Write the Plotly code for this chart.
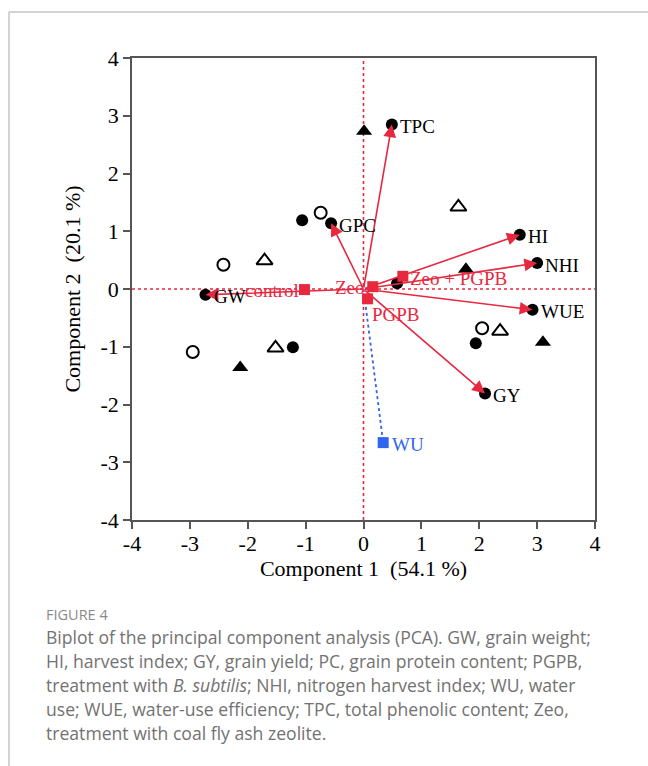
import plotly.graph_objects as go

# ---------------- data ----------------
var_names = ["TPC", "GPC", "HI", "NHI", "WUE", "GY", "GW"]
var_x = [0.49, -0.56, 2.70, 3.00, 2.92, 2.10, -2.73]
var_y = [2.85, 1.14, 0.94, 0.45, -0.36, -1.81, -0.10]

filled_circle_x = [-1.06, 1.94, -1.22, 0.58]
filled_circle_y = [1.19, -0.94, -1.01, 0.10]

open_circle_x = [-0.74, -2.42, -2.95, 2.05]
open_circle_y = [1.32, 0.42, -1.09, -0.68]

open_tri_x = [-1.71, -1.52, 1.64, 2.36]
open_tri_y = [0.49, -1.02, 1.42, -0.73]

filled_tri_x = [0.01, -2.13, 1.77, 3.10]
filled_tri_y = [2.73, -1.36, 0.34, -0.92]

treat_names = ["control", "Zeo", "Zeo + PGPB", "PGPB"]
treat_x = [-1.02, 0.16, 0.68, 0.07]
treat_y = [-0.01, 0.04, 0.22, -0.17]

wu_name = "WU"
wu_x = [0.34]
wu_y = [-2.66]

tick_vals = [-4, -3, -2, -1, 0, 1, 2, 3, 4]
tick_text = ["-4", "-3", "-2", "-1", "0", "1", "2", "3", "4"]

x_title = "Component 1  (54.1 %)"
y_title = "Component 2  (20.1 %)"

caption_head = "FIGURE 4"
caption_lines = [
    "Biplot of the principal component analysis (PCA). GW, grain weight;",
    "HI, harvest index; GY, grain yield; PC, grain protein content; PGPB,",
    "treatment with <i>B. subtilis</i>; NHI, nitrogen harvest index; WU, water",
    "use; WUE, water-use efficiency; TPC, total phenolic content; Zeo,",
    "treatment with coal fly ash zeolite.",
]

# ---------------- layout geometry ----------------
W, H = 648, 766
L, R, T, B = 132, 595, 58, 520
RED = "#E8283F"
BLUE = "#2F63F0"
SERIF = "Liberation Serif"


def paper(xp, yp):
    return (xp - L) / (R - L), (B - yp) / (B - T)


fig = go.Figure()

# reference dotted lines
fig.add_trace(go.Scatter(x=[-4, 4], y=[0, 0], mode="lines",
                         line=dict(color=RED, width=1.6, dash="3px,3px"),
                         hoverinfo="skip", showlegend=False))
fig.add_trace(go.Scatter(x=[0, 0], y=[-4, 4], mode="lines",
                         line=dict(color=RED, width=1.6, dash="3px,3px"),
                         hoverinfo="skip", showlegend=False))

# WU dotted blue vector
fig.add_trace(go.Scatter(x=[0, wu_x[0]], y=[0, wu_y[0]], mode="lines",
                         line=dict(color=BLUE, width=1.8, dash="3px,3px"),
                         hoverinfo="skip", showlegend=False))

# observation markers
fig.add_trace(go.Scatter(x=filled_circle_x + var_x, y=filled_circle_y + var_y,
                         mode="markers",
                         marker=dict(symbol="circle", size=12, color="black"),
                         showlegend=False))
fig.add_trace(go.Scatter(x=open_circle_x, y=open_circle_y, mode="markers",
                         marker=dict(symbol="circle-open", size=12, color="black",
                                     line=dict(width=2, color="black")),
                         showlegend=False))
fig.add_trace(go.Scatter(x=open_tri_x, y=open_tri_y, mode="markers",
                         marker=dict(symbol="triangle-up-open", size=14, color="black",
                                     line=dict(width=2, color="black")),
                         showlegend=False))
fig.add_trace(go.Scatter(x=filled_tri_x, y=filled_tri_y, mode="markers",
                         marker=dict(symbol="triangle-up", size=14, color="black"),
                         showlegend=False))

# treatment squares
fig.add_trace(go.Scatter(x=treat_x, y=treat_y, mode="markers",
                         marker=dict(symbol="square", size=11, color=RED),
                         showlegend=False))
fig.add_trace(go.Scatter(x=wu_x, y=wu_y, mode="markers",
                         marker=dict(symbol="square", size=11, color=BLUE),
                         showlegend=False))

annotations = []
# variable arrows
for n, x, y in zip(var_names, var_x, var_y):
    annotations.append(dict(x=x, y=y, ax=0, ay=0, xref="x", yref="y",
                            axref="x", ayref="y", showarrow=True, text="",
                            arrowhead=2, arrowsize=1.6, arrowwidth=1.6,
                            arrowcolor=RED))
    annotations.append(dict(x=x, y=y, xref="x", yref="y", text=n,
                            showarrow=False, xanchor="left", yanchor="middle",
                            xshift=6, yshift=-2,
                            font=dict(family=SERIF, size=19, color="black")))

# treatment labels
treat_anchor = {"control": ("right", "middle", -3, -1),
                "Zeo": ("right", "middle", -6, -1),
                "Zeo + PGPB": ("left", "middle", 5, -2),
                "PGPB": ("left", "top", 2, -3)}
for n, x, y in zip(treat_names, treat_x, treat_y):
    xa, ya, xs, ys = treat_anchor[n]
    annotations.append(dict(x=x, y=y, xref="x", yref="y", text=n,
                            showarrow=False, xanchor=xa, yanchor=ya,
                            xshift=xs, yshift=ys,
                            font=dict(family=SERIF, size=19, color=RED)))

annotations.append(dict(x=wu_x[0], y=wu_y[0], xref="x", yref="y", text=wu_name,
                        showarrow=False, xanchor="left", yanchor="middle",
                        xshift=7, yshift=-2,
                        font=dict(family=SERIF, size=19, color=BLUE)))

# caption
cx, cy = paper(44, 614)
annotations.append(dict(x=cx, y=cy, xref="paper", yref="paper", text=caption_head,
                        showarrow=False, xanchor="left", yanchor="middle",
                        font=dict(family="Open Sans", size=14.5, color="#8a8a8a")))
for i, line in enumerate(caption_lines):
    lx, ly = paper(44, 637 + i * 24)
    annotations.append(dict(x=lx, y=ly, xref="paper", yref="paper", text=line,
                            showarrow=False, xanchor="left", yanchor="middle",
                            font=dict(family="Open Sans", size=17.6, color="#727272")))

# outer frame lines
x0, y0 = paper(9, 12)
x1, _ = paper(650, 12)
_, y1 = paper(9, 770)
shapes = [
    dict(type="line", xref="paper", yref="paper", x0=x0, y0=y0, x1=x1, y1=y0,
         line=dict(color="#c4c4c4", width=1.5)),
    dict(type="line", xref="paper", yref="paper", x0=x0, y0=y0, x1=x0, y1=y1,
         line=dict(color="#c4c4c4", width=1.5)),
]

axis_common = dict(range=[-4, 4], tickvals=tick_vals, ticktext=tick_text,
                   ticks="outside", ticklen=7, tickwidth=1.5, tickcolor="#555",
                   showline=True, linecolor="#555", linewidth=1.5, mirror=True,
                   showgrid=False, zeroline=False, fixedrange=True,
                   tickfont=dict(family=SERIF, size=22, color="black"))

fig.update_layout(
    width=W, height=H,
    margin=dict(l=L, r=W - R, t=T, b=H - B, autoexpand=False),
    paper_bgcolor="white", plot_bgcolor="white",
    showlegend=False,
    xaxis=dict(**axis_common, ticklabelstandoff=-4,
               title=dict(text=x_title, standoff=4,
                          font=dict(family=SERIF, size=22, color="black"))),
    yaxis=dict(**axis_common,
               title=dict(text=y_title, standoff=14,
                          font=dict(family=SERIF, size=22, color="black"))),
    annotations=annotations,
    shapes=shapes,
)

fig.write_html("out.html")
